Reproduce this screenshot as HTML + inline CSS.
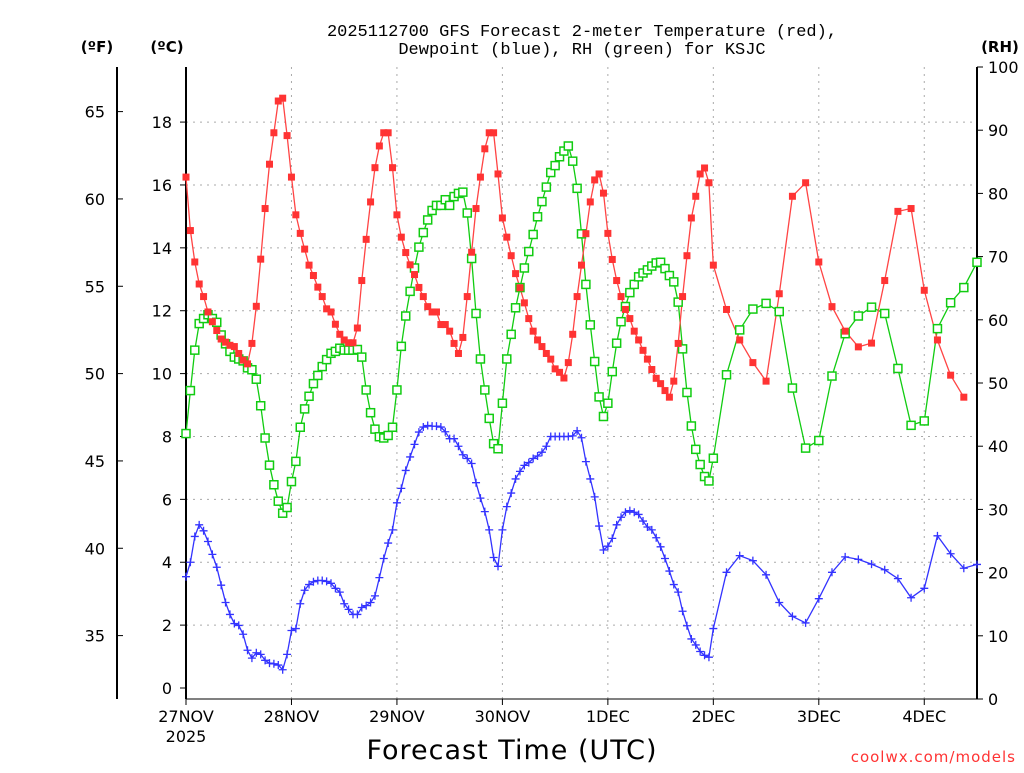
<!DOCTYPE html>
<html><head><meta charset="utf-8"><style>
body{margin:0;background:#fff;}
svg text{font-family:"DejaVu Sans","Liberation Sans",sans-serif;}
</style></head><body>
<svg id="chart" width="1024" height="768" xmlns="http://www.w3.org/2000/svg">
<text x="582" y="36" font-size="17" text-anchor="middle" style="font-family:'Liberation Mono',monospace">2025112700 GFS Forecast 2-meter Temperature (red),</text>
<text x="582" y="54" font-size="17" text-anchor="middle" style="font-family:'Liberation Mono',monospace">Dewpoint (blue), RH (green) for KSJC</text>
<text x="97" y="52" font-size="15" font-weight="bold" text-anchor="middle">(ºF)</text>
<text x="167" y="52" font-size="15" font-weight="bold" text-anchor="middle">(ºC)</text>
<text x="1000" y="52" font-size="15" font-weight="bold" text-anchor="middle">(RH)</text>
<text x="512" y="759" font-size="27" text-anchor="middle" letter-spacing="1">Forecast Time (UTC)</text>
<text x="1016" y="762" font-size="15" fill="#f33" text-anchor="end" font-family="Liberation Mono, monospace" letter-spacing="1">coolwx.com/models</text>
<g id="grid"></g><g id="axes"></g><g id="series"></g>
</svg>
<script>
const hours=[];for(let h=0;h<=120;h++)hours.push(h);for(let h=123;h<=180;h+=3)hours.push(h);
const temp=[16.25,14.55,13.55,12.85,12.45,11.96,11.65,11.37,11.1,11.0,10.9,10.86,10.64,10.43,10.31,10.96,12.14,13.64,15.25,16.66,17.66,18.67,18.76,17.57,16.25,15.05,14.46,13.96,13.45,13.12,12.75,12.45,12.06,11.96,11.57,11.25,11.07,10.98,10.98,11.45,12.96,14.27,15.46,16.55,17.24,17.66,17.66,16.55,15.05,14.34,13.85,13.46,13.15,12.74,12.45,12.13,11.96,11.96,11.56,11.56,11.35,10.96,10.64,11.15,12.45,13.86,15.25,16.25,17.15,17.66,17.66,16.35,14.95,14.34,13.75,13.18,12.73,12.25,11.75,11.35,11.07,10.86,10.64,10.46,10.15,10.04,9.86,10.35,11.25,12.45,13.45,14.45,15.46,16.16,16.35,15.74,14.46,13.63,12.96,12.45,12.04,11.75,11.35,11.07,10.74,10.46,10.13,9.85,9.68,9.46,9.25,9.76,10.96,12.45,13.75,14.95,15.64,16.35,16.54,16.07,
13.45,12.04,11.07,10.35,9.76,12.54,15.64,16.07,13.55,12.13,11.35,10.85,10.97,12.96,15.16,15.25,12.65,11.07,9.95,9.25];
const dewp=[3.54,4.0,4.82,5.19,5.0,4.66,4.25,3.84,3.27,2.72,2.34,2.05,1.99,1.71,1.2,0.95,1.12,1.07,0.88,0.79,0.77,0.73,0.58,1.07,1.83,1.89,2.68,3.11,3.29,3.38,3.42,3.42,3.39,3.33,3.17,3.05,2.68,2.5,2.34,2.34,2.56,2.62,2.72,2.93,3.51,4.12,4.61,5.03,5.89,6.35,6.92,7.35,7.75,8.14,8.3,8.35,8.33,8.33,8.3,8.15,7.93,7.93,7.69,7.42,7.3,7.14,6.53,6.04,5.61,5.03,4.15,3.87,5.03,5.77,6.2,6.65,6.89,7.08,7.17,7.3,7.38,7.5,7.69,8.0,8.0,8.0,8.0,8.0,8.02,8.18,7.96,7.2,6.65,6.08,5.15,4.39,4.51,4.76,5.19,5.43,5.59,5.64,5.59,5.52,5.31,5.12,5.03,4.78,4.49,4.12,3.72,3.29,3.05,2.44,1.98,1.56,1.37,1.16,1.04,0.98,1.89,
3.68,4.21,4.05,3.6,2.72,2.28,2.07,2.84,3.68,4.17,4.09,3.94,3.76,3.48,2.87,3.17,4.84,4.27,3.81,3.93];
const rh=[42.0,48.8,55.2,59.4,60.2,60.8,60.2,59.6,57.6,56.2,55.0,54.1,53.8,53.5,52.4,52.1,50.6,46.4,41.3,37.0,33.9,31.3,29.4,30.3,34.4,37.6,43.0,45.9,47.9,49.9,51.2,52.6,53.7,54.7,55.0,55.5,55.2,55.2,55.2,55.3,54.1,48.9,45.3,42.7,41.5,41.3,41.7,43.0,48.9,55.8,60.6,64.5,68.2,71.5,73.8,75.8,77.3,78.1,78.1,79.0,78.1,79.5,80.0,80.2,76.9,69.7,61.0,53.8,48.9,44.4,40.4,39.6,46.8,53.8,57.7,61.9,65.1,68.2,70.8,73.5,76.3,78.7,81.0,83.3,84.4,85.8,86.7,87.5,85.1,80.8,73.6,65.6,59.2,53.4,47.8,44.7,46.8,51.8,56.3,59.7,62.1,64.3,65.6,66.8,67.4,67.9,68.5,69.0,69.1,68.1,67.0,66.0,62.8,55.4,48.5,43.2,39.5,37.1,35.2,34.5,38.1,
51.3,58.4,61.7,62.6,61.3,49.2,39.7,40.9,51.1,57.8,60.6,62.0,61.0,52.3,43.3,44.0,58.6,62.7,65.1,69.1];
const cTicks=[0,2,4,6,8,10,12,14,16,18];
const fTicks=[35,40,45,50,55,60,65];
const rhTicks=[0,10,20,30,40,50,60,70,80,90,100];
const dayLabels=["27NOV","28NOV","29NOV","30NOV","1DEC","2DEC","3DEC","4DEC"];

const L=186,R=977,T=67,B=699;
const xs=h=>L+(h/180)*(R-L);
const yc=c=>688-c*31.44;
const yf=f=>yc((f-32)*5/9);
const yr=r=>B-r*(B-T)/100;
const NS="http://www.w3.org/2000/svg";
function mk(tag,parent,attrs){const e=document.createElementNS(NS,tag);for(const k in attrs)e.setAttribute(k,attrs[k]);parent.appendChild(e);return e;}
const grid=document.getElementById('grid'),axes=document.getElementById('axes'),ser=document.getElementById('series');

cTicks.forEach(c=>{
  if(c>0){const g=mk('line',grid,{x1:L,x2:R,y1:yc(c),y2:yc(c),stroke:'#aaa','stroke-dasharray':'2,5'});
  
  }
  const t=mk('line',axes,{x1:L-6,x2:L,y1:yc(c),y2:yc(c),stroke:'#000'});
  
  
  const tx=mk('text',axes,{x:172,y:yc(c)+6,'font-size':16,'text-anchor':'end'});tx.textContent=c;
  
  
});
fTicks.forEach(f=>{
  const t=mk('line',axes,{x1:117,x2:123,y1:yf(f),y2:yf(f),stroke:'#000'});
  
  
  const tx=mk('text',axes,{x:105,y:yf(f)+6,'font-size':16,'text-anchor':'end'});tx.textContent=f;
  
  
});
rhTicks.forEach(r=>{
  const t=mk('line',axes,{x1:R,x2:R+6,y1:yr(r),y2:yr(r),stroke:'#000'});
  
  
  const tx=mk('text',axes,{x:988,y:yr(r)+6,'font-size':16});tx.textContent=r;
  
  
});
dayLabels.forEach((d,i)=>{
  const x=xs(i*24);
  if(i>0){const g=mk('line',grid,{x1:x,x2:x,y1:T,y2:B,stroke:'#aaa','stroke-dasharray':'2,5'});
  
  }
  const t=mk('line',axes,{x1:x,x2:x,y1:B,y2:B+6,stroke:'#000'});
  
  
  const tx=mk('text',axes,{x:x,y:722,'font-size':16,'text-anchor':'middle'});tx.textContent=d;
  
  
});
const yr2=mk('text',axes,{x:186,y:742,'font-size':16,'text-anchor':'middle'});yr2.textContent="2025";


[[L,T,L,B,2],[R,T,R,B,2],[L,B,R,B,1],[117,T,117,B,2]].forEach(a=>{
  const l=mk('line',axes,{x1:a[0],y1:a[1],x2:a[2],y2:a[3],stroke:'#000','stroke-width':a[4]});
  
  
});

function drawLine(vals,yfn,color,name){
  const pts=vals.map((v,i)=>xs(hours[i]).toFixed(1)+','+yfn(v).toFixed(1)).join(' ');
  const p=mk('polyline',ser,{points:pts,fill:'none',stroke:color,'stroke-width':1.3});
  
  
}
drawLine(rh,yr,'#1c1','rh');
drawLine(temp,yc,'#f44','temperature');
drawLine(dewp,yc,'#33f','dewpoint');
rh.forEach((v,i)=>{const m=mk('rect',ser,{x:xs(hours[i])-4,y:yr(v)-4,width:8,height:8,fill:'#fff',stroke:'#1c1','stroke-width':1.5});
  
  });
temp.forEach((v,i)=>{const m=mk('rect',ser,{x:xs(hours[i])-3.5,y:yc(v)-3.5,width:7,height:7,fill:'#f33'});
  
  });
dewp.forEach((v,i)=>{const x=xs(hours[i]),y=yc(v);
  const m=mk('path',ser,{d:`M${x-4},${y}H${x+4}M${x},${y-4}V${y+4}`,stroke:'#33f','stroke-width':1.3});
  
  });
</script>
</body></html>
